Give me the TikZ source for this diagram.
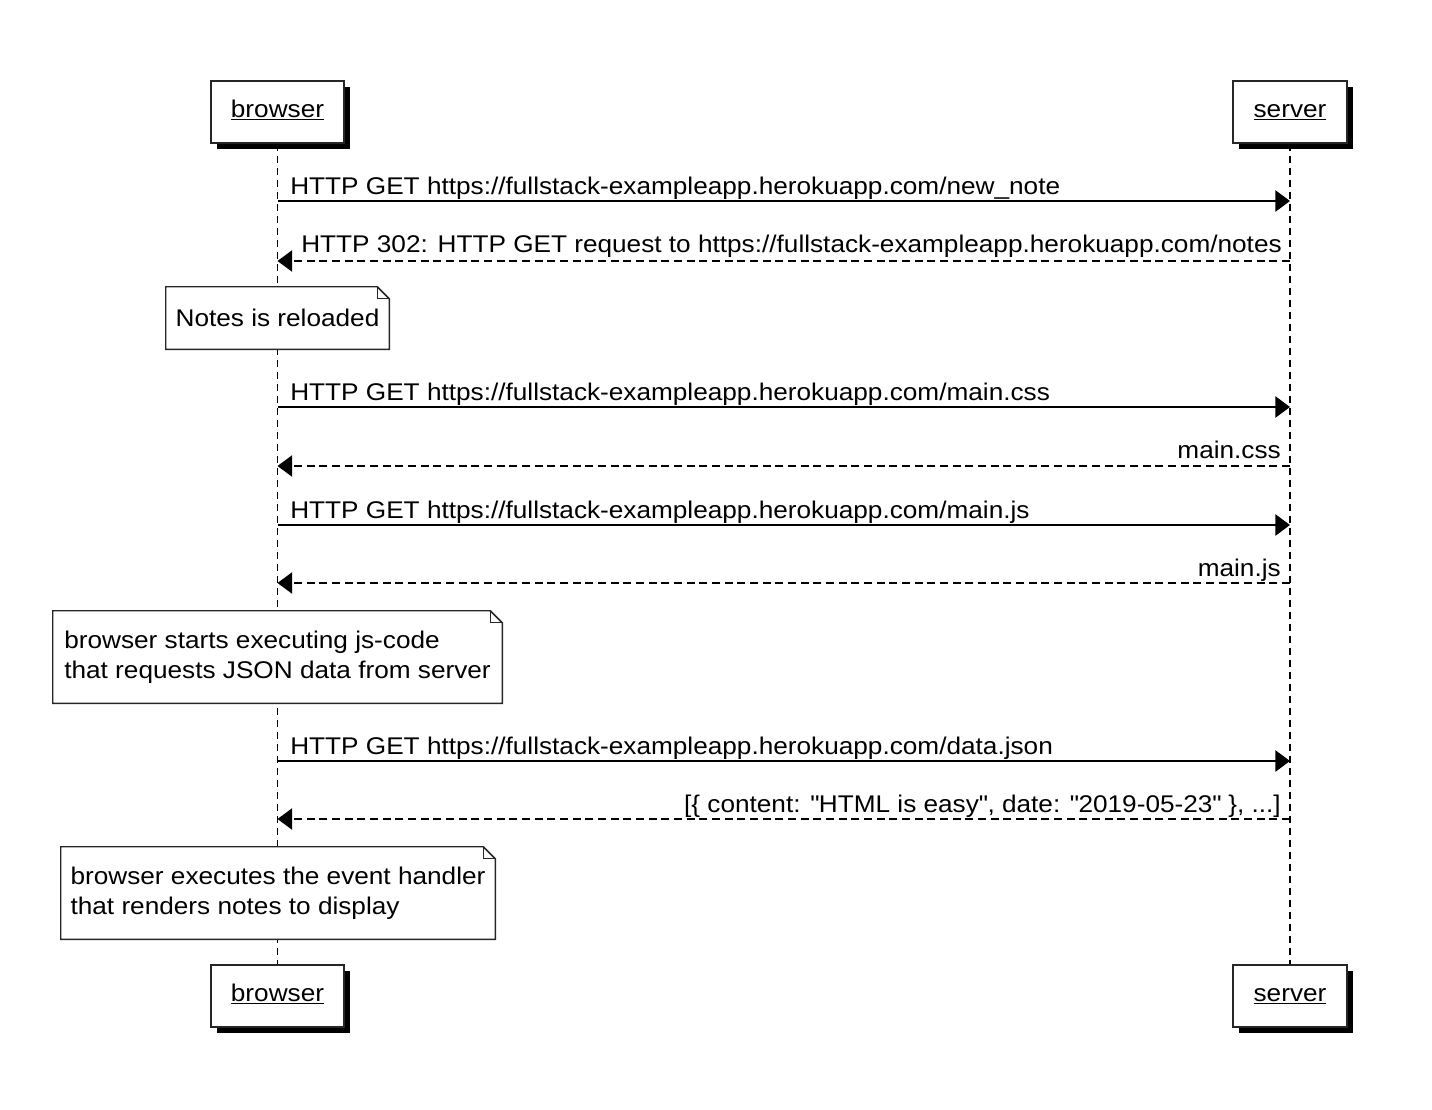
\documentclass[tikz,border=0pt]{standalone}
\usepackage{fontspec}
\setmainfont{Liberation Sans}[FakeStretch=1.085]
\usetikzlibrary{arrows.meta,shadows}
\begin{document}
\begin{tikzpicture}[x=0.75pt,y=-0.75pt,
  font=\fontsize{18.1}{22.5}\selectfont,
  every node/.style={inner sep=0pt},
  actor/.style={draw=black!85,line width=1.1pt,fill=white,minimum height=46.5pt,
    text height=0.95em,text depth=0.2em,
    drop shadow={shadow xshift=4.5pt,shadow yshift=-4.5pt,fill=black,opacity=1}},
  lifeline/.style={line width=0.9pt,dash pattern=on 5.5pt off 3.5pt},
  msg/.style={line width=1.1pt,-{Triangle[length=11pt,width=16pt]}},
  reply/.style={msg,dash pattern=on 6pt off 3.5pt},
  notebox/.style={fill=white,align=left},
  noteline/.style={draw=black!85,line width=1.1pt},
  lbl/.style={anchor=base west},
  rlbl/.style={anchor=base east}]
\useasboundingbox (0,0) rectangle (1432,1110);
% participants
\node[actor,minimum width=99.75pt] (bt) at (277.5,112) {\underline{browser}};
\node[actor,minimum width=85.5pt] (st) at (1290,112) {\underline{server}};
\node[actor,minimum width=99.75pt] (bb) at (277.5,996) {\underline{browser}};
\node[actor,minimum width=85.5pt] (sb) at (1290,996) {\underline{server}};
% lifelines
\draw[lifeline] (bt.south) -- (bb.north);
\draw[lifeline] (st.south) -- (sb.north);
% message coordinates
\foreach \i/\y in {1/201,2/261,3/407,4/466,5/525,6/583,7/761,8/819}{
  \coordinate (b\i) at (277.5,\y);
  \coordinate (s\i) at (1290,\y);
}
\draw[msg] (b1) -- (s1);
\node[lbl] (t1) at (290,194) {HTTP GET https://fullstack-exampleapp.herokuapp.com/new\_note};
\draw[reply] (s2) -- (b2);
\node[rlbl] (t2) at (1282,252) {HTTP 302: HTTP GET request to https://fullstack-exampleapp.herokuapp.com/notes};
\draw[msg] (b3) -- (s3);
\node[lbl] (t3) at (290,400) {HTTP GET https://fullstack-exampleapp.herokuapp.com/main.css};
\draw[reply] (s4) -- (b4);
\node[rlbl] (t4) at (1281,458) {main.css};
\draw[msg] (b5) -- (s5);
\node[lbl] (t5) at (290,518) {HTTP GET https://fullstack-exampleapp.herokuapp.com/main.js};
\draw[reply] (s6) -- (b6);
\node[rlbl] (t6) at (1281,576) {main.js};
\draw[msg] (b7) -- (s7);
\node[lbl] (t7) at (290,754) {HTTP GET https://fullstack-exampleapp.herokuapp.com/data.json};
\draw[reply] (s8) -- (b8);
\node[rlbl] (t8) at (1281,812) {[\{ content: \textquotedbl HTML is easy\textquotedbl, date: \textquotedbl 2019-05-23\textquotedbl\ \}, ...]};
% notes
\node[notebox,minimum height=46.5pt,minimum width=167.25pt] (n1) at (277.5,318) {Notes is reloaded};
\node[notebox,minimum height=69pt,minimum width=336.75pt] (n2) at (277.5,657) {browser starts executing js-code\\that requests JSON data from server};
\node[notebox,minimum height=69pt,minimum width=325.5pt] (n3) at (278,893) {browser executes the event handler\\that renders notes to display};
\foreach \n in {n1,n2,n3}{
  \draw[noteline] (\n.north west) -- ([xshift=-9pt]\n.north east) -- ([yshift=-9pt]\n.north east) -- (\n.south east) -- (\n.south west) -- cycle;
  \draw[noteline,line width=0.8pt] ([xshift=-9pt]\n.north east) -- ([xshift=-9pt,yshift=-9pt]\n.north east) -- ([yshift=-9pt]\n.north east);
}
\end{tikzpicture}
\end{document}
